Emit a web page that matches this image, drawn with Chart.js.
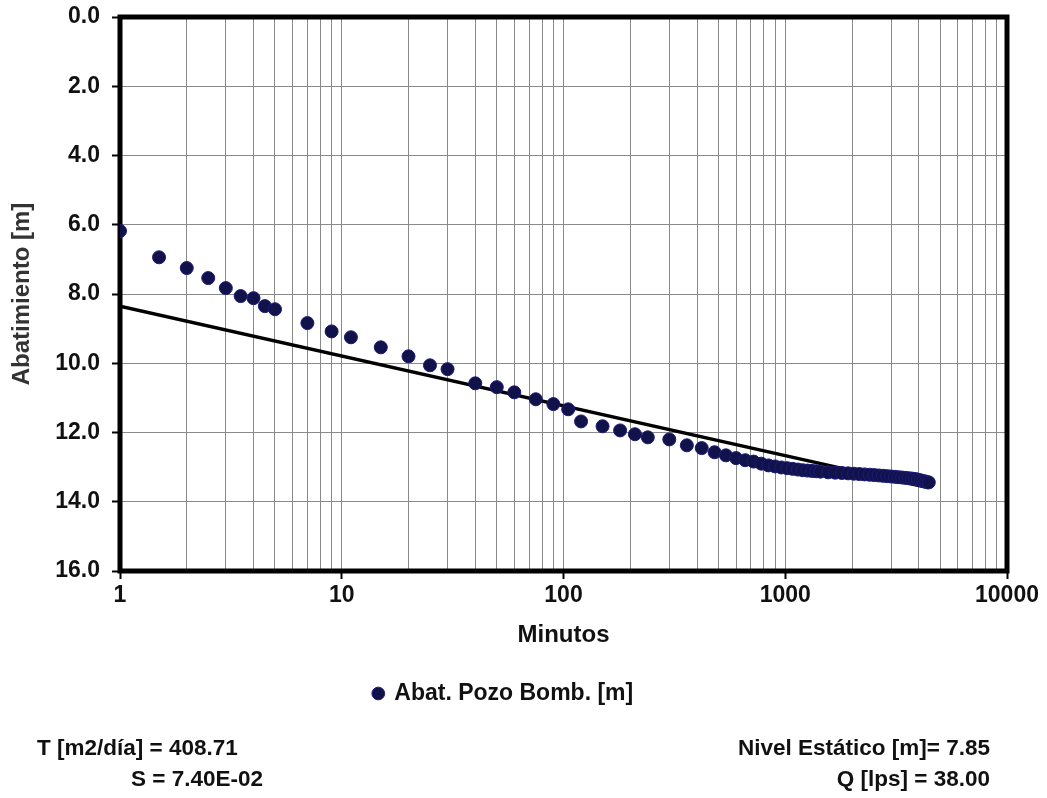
<!DOCTYPE html>
<html lang="es">
<head>
<meta charset="utf-8">
<title>Abatimiento vs Minutos</title>
<script src="https://cdn.jsdelivr.net/npm/chart.js@4.4.1/dist/chart.umd.min.js"></script>
<style>
    html, body { margin: 0; padding: 0; background: #fff; }
    #page { position: relative; width: 1047px; height: 798px; font-family: "Liberation Sans", Arial, sans-serif; }
    #chart-box { position: absolute; left: 0; top: 0; width: 1047px; height: 798px; }
    .dato { position: absolute; font-weight: bold; font-size: 22.5px; line-height: 26px; color: #111; white-space: nowrap; }
</style>
</head>
<body>
<div id="page">
    <div id="chart-box"><canvas id="abatChart"></canvas></div>
    <div class="dato" style="left:37px; top:735px;">T [m2/día] = 408.71</div>
    <div class="dato" style="right:784px; top:766px;">S = 7.40E-02</div>
    <div class="dato" style="right:57px; top:735px;">Nivel Estático [m]= 7.85</div>
    <div class="dato" style="right:57px; top:766px;">Q [lps] = 38.00</div>
</div>
<script>
// --- datos de la prueba de bombeo ---
const minutos = [1, 1.5, 2, 2.5, 3, 3.5, 4, 4.5, 5, 7, 9, 11, 15, 20, 25, 30, 40, 50,
    60, 75, 90, 105, 120, 150, 180, 210, 240, 300, 360, 420, 480, 540, 600, 660,
    720, 780, 840, 900, 960, 1020, 1080, 1140, 1200, 1260, 1320, 1380, 1440,
    1560, 1680, 1800, 1920, 2040, 2160, 2280, 2400, 2520, 2640, 2760, 2880, 3000,
    3120, 3240, 3360, 3480, 3600, 3720, 3840, 3960, 4080, 4200, 4320, 4440];
const abatimiento = [6.18, 6.94, 7.25, 7.54, 7.83, 8.06, 8.12, 8.35, 8.44, 8.84, 9.08, 9.25, 9.54, 9.80, 10.06, 10.17, 10.58, 10.69,
    10.84, 11.04, 11.18, 11.33, 11.68, 11.82, 11.94, 12.05, 12.14, 12.20, 12.37, 12.45, 12.57, 12.66, 12.74, 12.80,
    12.84, 12.90, 12.95, 12.98, 13.01, 13.03, 13.05, 13.07, 13.09, 13.10, 13.11, 13.12, 13.13,
    13.15, 13.16, 13.17, 13.18, 13.19, 13.20, 13.21, 13.22, 13.23, 13.24, 13.25, 13.26, 13.27,
    13.28, 13.29, 13.30, 13.31, 13.32, 13.33, 13.34, 13.36, 13.38, 13.40, 13.42, 13.44];

// --- recta de ajuste (Jacob) ---
const ajusteX = [1, 4440];
const ajusteY = [8.35, 13.6];

// --- ticks ---
const xTicks = [1, 2, 3, 4, 5, 6, 7, 8, 9, 10, 20, 30, 40, 50, 60, 70, 80, 90,
    100, 200, 300, 400, 500, 600, 700, 800, 900, 1000, 2000, 3000, 4000, 5000, 6000, 7000, 8000, 9000, 10000];
const xLabels = [1, 10, 100, 1000, 10000];
const yTicks = [0, 2, 4, 6, 8, 10, 12, 14, 16];

const serieNombre = 'Abat. Pozo Bomb. [m]';

document.addEventListener('DOMContentLoaded', () => {
    const puntos = minutos.map((t, i) => ({ x: t, y: abatimiento[i] }));
    const recta = ajusteX.map((t, i) => ({ x: t, y: ajusteY[i] }));

    const familia = '"Liberation Sans", Arial, sans-serif';
    const fuenteEje = { family: familia, size: 23, weight: 'bold' };

    // marco grueso alrededor del área de trazado
    const marco = {
        id: 'marco',
        beforeDatasetsDraw(chart) {
            const { ctx, chartArea: a } = chart;
            ctx.save();
            ctx.lineWidth = 5;
            ctx.strokeStyle = '#000';
            ctx.strokeRect(a.left, a.top, a.right - a.left, a.bottom - a.top);
            ctx.restore();
        }
    };

    const ctx = document.getElementById('abatChart').getContext('2d');
    new Chart(ctx, {
        type: 'scatter',
        data: {
            datasets: [{
                label: serieNombre,
                data: puntos,
                backgroundColor: '#12124a',
                borderColor: '#1a1a7a',
                borderWidth: 1,
                pointRadius: 6.5,
                pointHoverRadius: 6.5,
                order: 0
            }, {
                type: 'line',
                label: 'ajuste',
                data: recta,
                showLine: true,
                borderColor: '#000',
                borderWidth: 3.5,
                pointRadius: 0,
                fill: false,
                order: 1
            }]
        },
        options: {
            responsive: true,
            maintainAspectRatio: false,
            animation: false,
            layout: { padding: { left: 0, right: 40, top: 17, bottom: 83 } },
            scales: {
                x: {
                    type: 'logarithmic',
                    min: 1,
                    max: 10000,
                    afterBuildTicks: (scale) => { scale.ticks = xTicks.map(v => ({ value: v })); },
                    afterFit: (scale) => {
                        scale.height = 101;
                        scale.paddingLeft = 0;
                        scale.paddingRight = 0;
                    },
                    border: { display: false },
                    grid: {
                        color: '#8a8a8a',
                        lineWidth: 1,
                        tickLength: 8,
                        tickWidth: 2,
                        tickColor: (c) => xLabels.includes(c.tick && c.tick.value) ? '#000' : 'rgba(0,0,0,0)'
                    },
                    ticks: {
                        autoSkip: false,
                        maxRotation: 0,
                        minRotation: 0,
                        padding: 3,
                        color: '#111',
                        font: fuenteEje,
                        callback: (v) => xLabels.includes(v) ? String(v) : ''
                    },
                    title: {
                        display: true,
                        text: 'Minutos',
                        color: '#111',
                        font: { family: familia, size: 24, weight: 'bold' },
                        padding: { top: 0, bottom: 22 }
                    }
                },
                y: {
                    reverse: true,
                    min: 0,
                    max: 16,
                    afterBuildTicks: (scale) => { scale.ticks = yTicks.map(v => ({ value: v })); },
                    afterFit: (scale) => {
                        scale.width = 120;
                        scale.paddingTop = 0;
                        scale.paddingBottom = 0;
                    },
                    border: { display: false },
                    grid: {
                        color: '#8a8a8a',
                        lineWidth: 1,
                        tickLength: 8,
                        tickWidth: 2,
                        tickColor: '#000'
                    },
                    ticks: {
                        padding: 12,
                        color: '#111',
                        font: fuenteEje,
                        callback: (v) => Number(v).toFixed(1)
                    },
                    title: {
                        display: true,
                        text: 'Abatimiento [m]',
                        color: '#333',
                        font: { family: familia, size: 24, weight: 'bold' },
                        padding: { top: 8, bottom: 0 }
                    }
                }
            },
            plugins: {
                legend: {
                    position: 'bottom',
                    labels: {
                        filter: (item) => item.datasetIndex === 0,
                        usePointStyle: true,
                        pointStyle: 'circle',
                        boxWidth: 9,
                        boxHeight: 9,
                        padding: 10,
                        color: '#111',
                        font: { family: familia, size: 23, weight: 'bold' }
                    }
                },
                tooltip: { enabled: false }
            }
        },
        plugins: [marco]
    });
});
</script>
</body>
</html>
